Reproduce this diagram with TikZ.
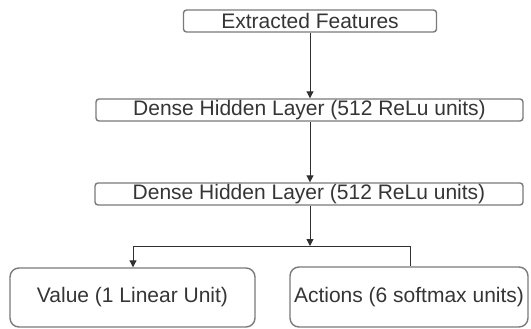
\documentclass[tikz,border=0pt]{standalone}
\usepackage{fontspec}
\setmainfont{Liberation Sans}
\usetikzlibrary{arrows.meta}
\definecolor{boxgray}{HTML}{7A7A7A}
\definecolor{txtgray}{HTML}{353535}
\definecolor{linegray}{HTML}{303030}
\tikzset{
  thinbox/.style={draw=boxgray, line width=1.4pt, rounded corners=3pt, inner sep=0pt,
    text=txtgray, font=\fontsize{21}{24}\selectfont, minimum height=22pt},
  bigbox/.style={draw=boxgray, line width=1.4pt, rounded corners=9pt, inner sep=0pt,
    text=txtgray, font=\fontsize{21}{24}\selectfont},
  conn/.style={draw=linegray, line width=1pt},
  arr/.style={conn, -{Triangle[width=7pt,length=7pt]}}
}
\begin{document}
\begin{tikzpicture}[x=1pt,y=-1pt]
\useasboundingbox (0,0) rectangle (531,329);
\node[thinbox, minimum width=253pt] (feat) at (310,21) {Extracted Features};
\node[thinbox, minimum width=427pt] (d1) at (309.5,110) {Dense Hidden Layer (512 ReLu units)};
\node[thinbox, minimum width=428pt] (d2) at (309,194) {Dense Hidden Layer (512 ReLu units)};
\node[bigbox, minimum width=245pt, minimum height=59pt] (val) at (132.5,297.5) {Value (1 Linear Unit)};
\node[bigbox, minimum width=238pt, minimum height=60pt] (act) at (409,297) {Actions (6 softmax units)};
\coordinate (jC) at (310,246);
\coordinate (jL) at (133,246);
\coordinate (jR) at (410,246);
\draw[arr] (feat.south -| jC) -- (d1.north -| jC);
\draw[arr] (d1.south -| jC) -- (d2.north -| jC);
\draw[arr] (d2.south -| jC) -- (jC);
\draw[conn] (jL) -- (jR);
\draw[arr] (jL) -- (jL |- val.north);
\draw[conn] (jR) -- (jR |- act.north);
\end{tikzpicture}
\end{document}
